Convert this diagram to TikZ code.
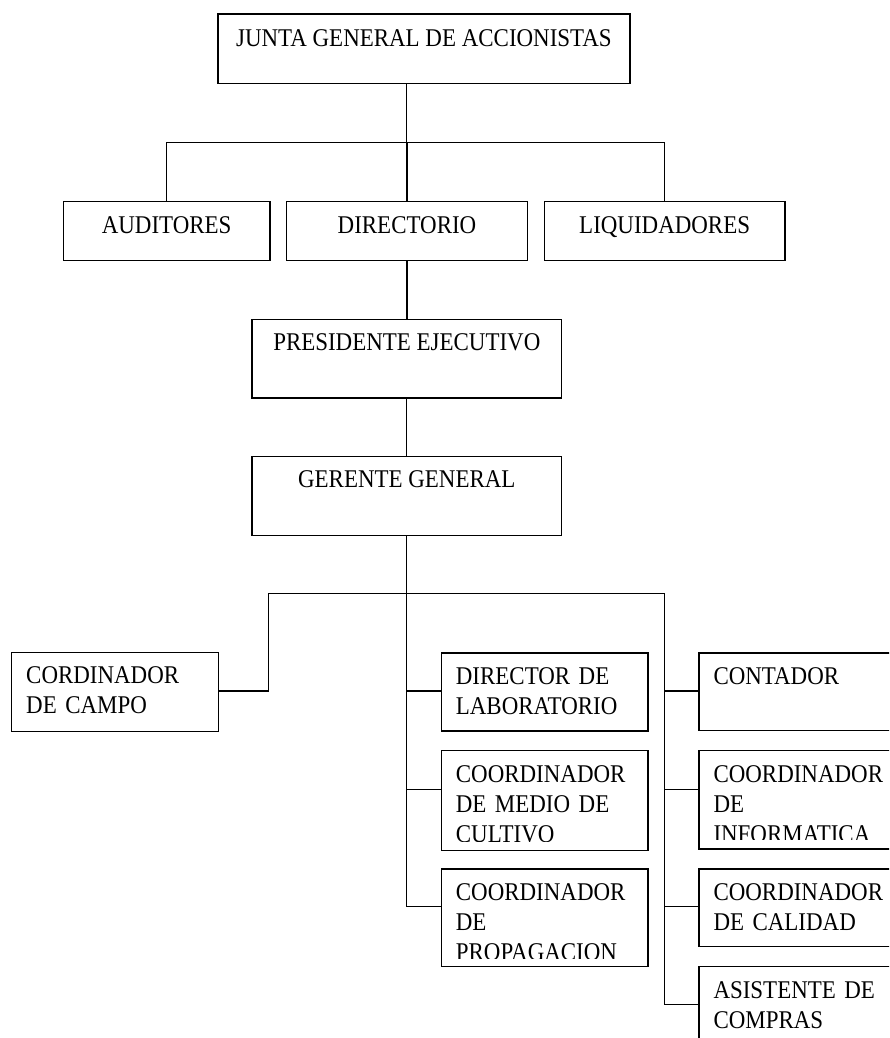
\documentclass[tikz,border=0pt]{standalone}
\usepackage{fontspec}
\setmainfont{Liberation Serif}[FakeStretch=0.9]
\usetikzlibrary{calc}

\begin{document}
\begin{tikzpicture}[x=1pt,y=-1pt]
\tikzset{
  frame/.style={draw=black, line width=1.3pt, inner sep=0pt, anchor=north west},
  caption/.style={font=\fontsize{25.5}{30}\selectfont, inner sep=0pt, text=black},
  leftcap/.style={caption, anchor=base west, text width=190pt, align=left},
  wire/.style={draw=black, line width=1.3pt}
}

% page area
\useasboundingbox (0,0) rectangle (889,1038);
\fill[white] (0,0) rectangle (889,1038);
\clip (0,0) rectangle (889,1038);

% ---- boxes ----
\node[frame, minimum width=412pt,   minimum height=69.4pt] (junta)        at (217.3,13.3) {};
\node[frame, minimum width=206.6pt, minimum height=59pt]   (auditores)    at (62.7,201)   {};
\node[frame, minimum width=240.7pt, minimum height=59pt]   (directorio)   at (286,201)    {};
\node[frame, minimum width=240.6pt, minimum height=59pt]   (liquidadores) at (543.7,201)  {};
\node[frame, minimum width=309.7pt, minimum height=78.6pt] (presidente)   at (251.3,318.7){};
\node[frame, minimum width=309.7pt, minimum height=78.8pt] (gerente)      at (251.3,455.7){};
\node[frame, minimum width=206.7pt, minimum height=79pt]   (cordinador)   at (11,651.7)   {};
\node[frame, minimum width=206.6pt, minimum height=78pt]   (director)     at (440.7,652.3){};
\node[frame, minimum width=206.6pt, minimum height=100pt]  (medio)        at (440.7,750)  {};
\node[frame, minimum width=206.6pt, minimum height=97.4pt] (propagacion)  at (440.7,868.3){};
\node[frame, minimum width=206.6pt, minimum height=77.7pt] (contador)     at (698.3,652.3){};
\node[frame, minimum width=206.6pt, minimum height=98.3pt] (informatica)  at (698.3,750)  {};
\node[frame, minimum width=206.6pt, minimum height=77.7pt] (calidad)      at (698.3,868.3){};
\node[frame, minimum width=206.6pt, minimum height=80pt]   (asistente)    at (698.3,966)  {};

% ---- captions ----
\node[caption, anchor=base] (juntaT)        at ($(junta.north)+(0,33)$)        {JUNTA GENERAL DE ACCIONISTAS};
\node[caption, anchor=base] (auditoresT)    at ($(auditores.north)+(0,32)$)    {AUDITORES};
\node[caption, anchor=base] (directorioT)   at ($(directorio.north)+(0,32)$)   {DIRECTORIO};
\node[caption, anchor=base] (liquidadoresT) at ($(liquidadores.north)+(0,32)$) {LIQUIDADORES};
\node[caption, anchor=base] (presidenteT)   at ($(presidente.north)+(0,32)$)   {PRESIDENTE EJECUTIVO};
\node[caption, anchor=base] (gerenteT)      at ($(gerente.north)+(0,32)$)      {GERENTE GENERAL};

\node[leftcap] (cordinadorT) at ($(cordinador.north west)+(15,32)$) {CORDINADOR\\DE CAMPO};
\node[leftcap] (directorT)   at ($(director.north west)+(15,32)$)   {DIRECTOR DE\\LABORATORIO};
\node[leftcap] (contadorT)   at ($(contador.north west)+(15,32)$)   {CONTADOR};
\node[leftcap] (calidadT)    at ($(calidad.north west)+(15,32)$)    {COORDINADOR\\DE CALIDAD};
\node[leftcap] (asistenteT)  at ($(asistente.north west)+(15,32)$)  {ASISTENTE DE\\COMPRAS};

% captions that run past the inner edge of their box are cut off
\begin{scope}
  \clip (medio.north west) rectangle ($(medio.south east)+(0,-10)$);
  \node[leftcap] (medioT) at ($(medio.north west)+(15,32)$) {COORDINADOR\\DE MEDIO DE\\CULTIVO};
\end{scope}
\begin{scope}
  \clip (informatica.north west) rectangle ($(informatica.south east)+(0,-10)$);
  \node[leftcap] (informaticaT) at ($(informatica.north west)+(15,32)$) {COORDINADOR\\DE\\INFORMATICA};
\end{scope}
\begin{scope}
  \clip (propagacion.north west) rectangle ($(propagacion.south east)+(0,-9)$);
  \node[leftcap] (propagacionT) at ($(propagacion.north west)+(15,32)$) {COORDINADOR\\DE\\PROPAGACION};
\end{scope}

% ---- connectors ----
\coordinate (hubTop) at (406.5,142.5);
\draw[wire] (hubTop |- junta.south) -- (hubTop);
\draw[wire] (auditores.north) -- (auditores.north |- hubTop)
            -- (liquidadores.north |- hubTop) -- (liquidadores.north);
\draw[wire] (directorio.north |- hubTop) -- (directorio.north);
\draw[wire] (directorio.south) -- (directorio.south |- presidente.north);
\draw[wire] (presidente.south) -- (presidente.south |- gerente.north);

% lower bus
\coordinate (busL)  at (268.3,593.3);
\coordinate (busR)  at (664.3,593.3);
\coordinate (rowA)  at (0,691);
\coordinate (rowB)  at (0,789.3);
\coordinate (rowC)  at (0,906.7);
\coordinate (rowD)  at (0,1004.3);

% central trunk with its three branches
\draw[wire] (gerente.south) -- (gerente.south |- rowC) -- (propagacion.west |- rowC);
\draw[wire] (gerente.south |- rowA) -- (director.west |- rowA);
\draw[wire] (gerente.south |- rowB) -- (medio.west |- rowB);

% horizontal bus, left drop and right trunk
\draw[wire] (cordinador.east |- rowA) -- (busL |- rowA) -- (busL) -- (busR)
            -- (busR |- rowD) -- (asistente.west |- rowD);
\draw[wire] (busR |- rowA) -- (contador.west |- rowA);
\draw[wire] (busR |- rowB) -- (informatica.west |- rowB);
\draw[wire] (busR |- rowC) -- (calidad.west |- rowC);
\end{tikzpicture}
\end{document}
